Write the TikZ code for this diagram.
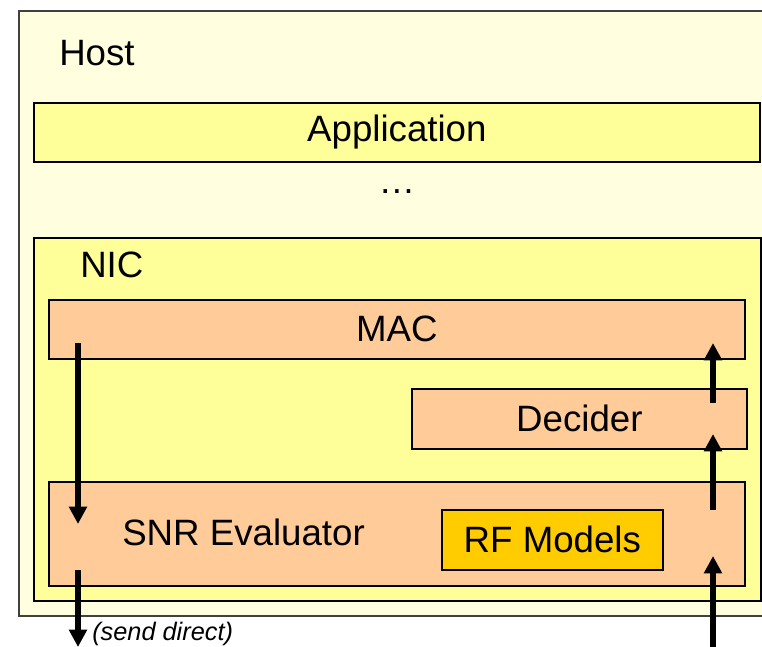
\documentclass[tikz,border=0pt]{standalone}
\usepackage{fontspec}
\setmainfont{Liberation Sans}
\usetikzlibrary{arrows.meta}
\definecolor{hostfill}{HTML}{FFFFE0}
\definecolor{nicfill}{HTML}{FFFF99}
\definecolor{layerfill}{HTML}{FFCC99}
\definecolor{rffill}{HTML}{FFCC00}
\tikzset{
  box/.style={draw=black, line width=1.3pt, inner sep=0pt, anchor=north west},
  lbl/.style={inner sep=0pt, font=\fontsize{27.5}{32}\selectfont},
  flow/.style={line width=4.5pt, -{Triangle[length=13pt,width=13pt]}},
}
\begin{document}
\begin{tikzpicture}[x=0.75pt,y=-0.75pt]
\useasboundingbox (0,0) rectangle (762,646);
\fill[white] (0,0) rectangle (762,646);
% Host
\node[box, draw=black!75, fill=hostfill, minimum width=800*0.75pt, minimum height=605*0.75pt] (host) at (18,10) {};
\node[lbl, anchor=west] (hostlbl) at (59,53) {Host};
% Application
\node[box, fill=nicfill, minimum width=726*0.75pt, minimum height=59*0.75pt, lbl] (app) at (33,102) {Application};
\node[lbl, anchor=base] (dots) at (397,193) {\ldots};
% NIC
\node[box, fill=nicfill, minimum width=727*0.75pt, minimum height=363*0.75pt] (nic) at (33,237) {};
\node[lbl, anchor=west] (niclbl) at (80,265) {NIC};
% MAC
\node[box, fill=layerfill, minimum width=696*0.75pt, minimum height=59*0.75pt, lbl] (mac) at (48,299) {MAC};
% Decider
\node[box, fill=layerfill, minimum width=335*0.75pt, minimum height=60*0.75pt, lbl] (dec) at (411,388) {Decider};
% SNR Evaluator
\node[box, fill=layerfill, minimum width=696*0.75pt, minimum height=104*0.75pt] (snr) at (48,481) {};
\node[lbl, anchor=west] (snrlbl) at (122,532) {SNR Evaluator};
% RF Models
\node[box, fill=rffill, minimum width=221*0.75pt, minimum height=60*0.75pt, lbl] (rf) at (441,509) {RF Models};
% arrows
\coordinate (d1s) at (78,343);
\coordinate (d1e) at (78,524);
\coordinate (d2s) at (78,570);
\coordinate (d2e) at (78,647);
\coordinate (u1s) at (713,647);
\coordinate (u1e) at (713,556);
\coordinate (u2s) at (713,510);
\coordinate (u2e) at (713,434);
\coordinate (u3s) at (713,403);
\coordinate (u3e) at (713,343);
\draw[flow] (d1s) -- (d1e);
\draw[flow] (d2s) -- (d2e);
\draw[flow] (u1s) -- (u1e);
\draw[flow] (u2s) -- (u2e);
\draw[flow] (u3s) -- (u3e);
\node[inner sep=0pt, anchor=west, font=\fontsize{19}{22}\selectfont\itshape] (send) at (92,634) {(send direct)};
\end{tikzpicture}
\end{document}
